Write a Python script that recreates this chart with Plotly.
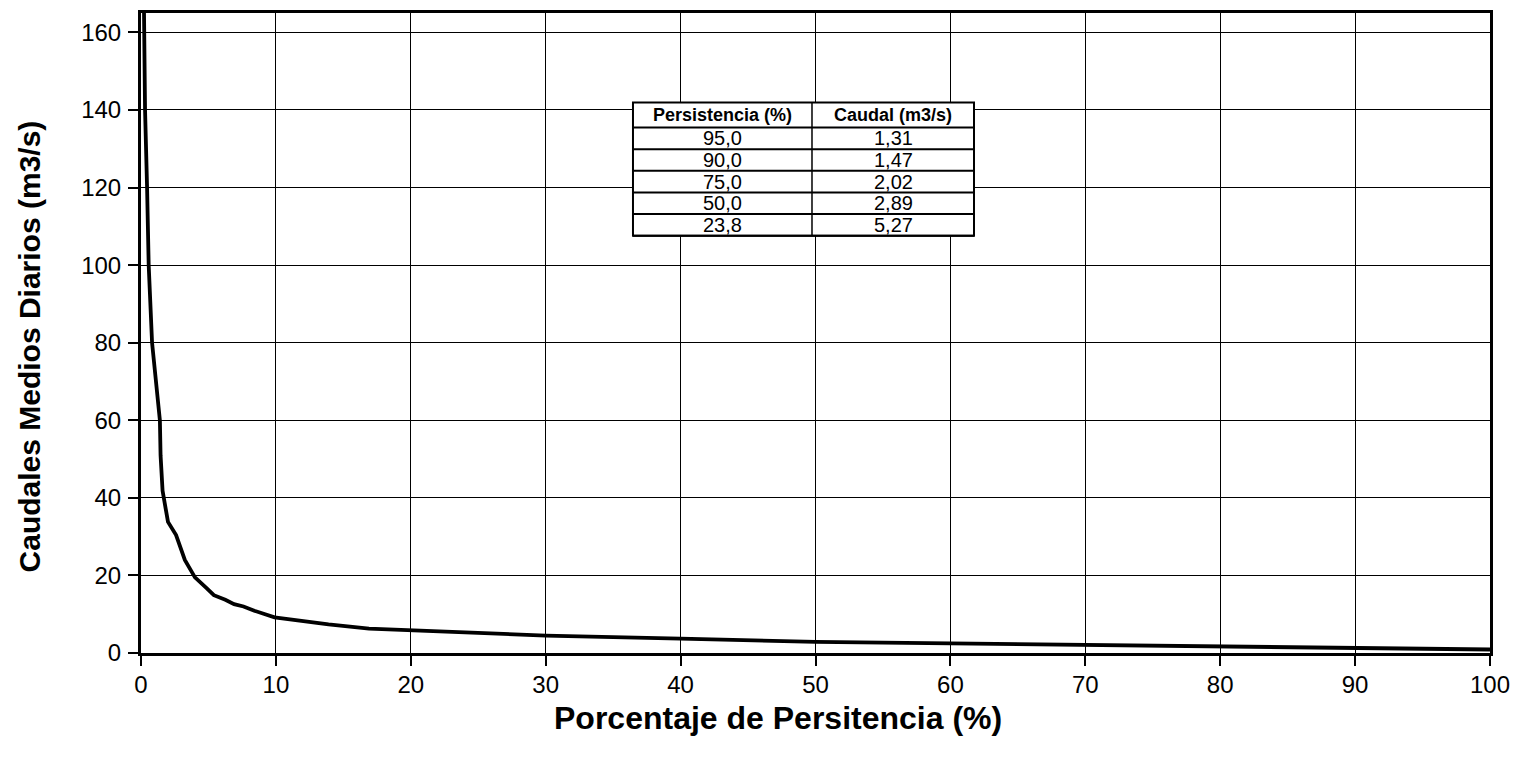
import plotly.graph_objects as go

# Curva de duración de caudales (lectura aproximada del gráfico)
persistencia = [0.22, 0.3, 0.45, 0.57, 0.82, 1.1, 1.3, 1.4, 1.45, 1.6, 2.0, 2.6, 3.25, 4.0, 4.9, 5.4,
                6.25, 6.9, 7.6, 8.4, 9.9, 11.1, 13.9, 16.9, 19.4, 23.8, 30, 40, 50, 60, 70, 75, 80,
                90, 95, 100]
caudal = [166, 140, 120, 100, 80, 70, 64.7, 60, 51, 41.8, 33.8, 30.4, 24, 19.5, 16.6, 14.9,
          13.7, 12.6, 12.0, 10.9, 9.2, 8.6, 7.4, 6.3, 6.0, 5.27, 4.5, 3.7, 2.89, 2.5, 2.15, 2.02, 1.8,
          1.47, 1.31, 0.9]

tabla_pers = ["95,0", "90,0", "75,0", "50,0", "23,8"]
tabla_caudal = ["1,31", "1,47", "2,02", "2,89", "5,27"]
tabla_headers = ["Persistencia (%)", "Caudal (m3/s)"]

x_ticks = list(range(0, 101, 10))
y_ticks = list(range(0, 161, 20))

x_title = "Porcentaje de Persitencia (%)"
y_title = "Caudales Medios Diarios (m3/s)"

fig = go.Figure()
fig.add_trace(go.Scatter(x=persistencia, y=caudal, mode="lines",
                         line=dict(color="black", width=3.8), showlegend=False))

# --- tabla (en coordenadas "paper" del área de trazado) ---
tx0, tx1, tdiv = 0.3647, 0.6175, 0.4974
ttop = 0.860
hdr_h = 0.039
row_h = 0.0338
shapes = []
annotations = []
bottom = ttop - hdr_h - row_h * len(tabla_pers)
shapes.append(dict(type="rect", xref="paper", yref="paper", x0=tx0, x1=tx1, y0=bottom, y1=ttop,
                   fillcolor="white", line=dict(color="black", width=2), layer="above"))
shapes.append(dict(type="line", xref="paper", yref="paper", x0=tdiv, x1=tdiv, y0=bottom, y1=ttop,
                   line=dict(color="black", width=1.5)))
ycur = ttop - hdr_h
shapes.append(dict(type="line", xref="paper", yref="paper", x0=tx0, x1=tx1, y0=ycur, y1=ycur,
                   line=dict(color="black", width=2)))
for i, h in enumerate(tabla_headers):
    cx = (tx0 + tdiv) / 2 if i == 0 else (tdiv + tx1) / 2
    annotations.append(dict(x=cx, y=ttop - hdr_h / 2, xref="paper", yref="paper", text=f"<b>{h}</b>",
                            showarrow=False, font=dict(family="Arial", size=18, color="black"),
                            xanchor="center", yanchor="middle"))
for p, c in zip(tabla_pers, tabla_caudal):
    yc = ycur - row_h / 2
    annotations.append(dict(x=(tx0 + tdiv) / 2, y=yc, xref="paper", yref="paper", text=p,
                            showarrow=False, font=dict(family="Arial", size=20, color="black"),
                            xanchor="center", yanchor="middle"))
    annotations.append(dict(x=(tdiv + tx1) / 2, y=yc, xref="paper", yref="paper", text=c,
                            showarrow=False, font=dict(family="Arial", size=20, color="black"),
                            xanchor="center", yanchor="middle"))
    ycur -= row_h
    shapes.append(dict(type="line", xref="paper", yref="paper", x0=tx0, x1=tx1, y0=ycur, y1=ycur,
                       line=dict(color="black", width=2)))

# títulos de ejes
annotations.append(dict(x=0.472, y=-0.101, xref="paper", yref="paper", text=f"<b>{x_title}</b>",
                        showarrow=False, font=dict(family="Arial", size=32, color="black"),
                        xanchor="center", yanchor="middle"))
annotations.append(dict(x=-0.083, y=0.479, xref="paper", yref="paper", text=f"<b>{y_title}</b>",
                        showarrow=False, textangle=-90, font=dict(family="Arial", size=30, color="black"),
                        xanchor="center", yanchor="middle"))

fig.update_layout(
    width=1507, height=744,
    margin=dict(l=133, r=25, t=2, b=99),
    paper_bgcolor="white", plot_bgcolor="white",
    font=dict(family="Arial", color="black", size=24),
    shapes=shapes, annotations=annotations,
    xaxis=dict(range=[0, 100], tickvals=x_ticks, ticks="outside", ticklen=10, tickwidth=2,
               tickcolor="black", showgrid=True, gridcolor="black", gridwidth=1,
               showline=True, linecolor="black", linewidth=3, mirror=True, zeroline=False,
               ticklabelstandoff=-2, tickfont=dict(size=24)),
    yaxis=dict(range=[0, 165], tickvals=y_ticks, ticks="outside", ticklen=10, tickwidth=2,
               tickcolor="black", showgrid=True, gridcolor="black", gridwidth=1,
               showline=True, linecolor="black", linewidth=3, mirror=True, zeroline=False,
               ticklabelstandoff=2, tickfont=dict(size=24)),
)

fig.write_html("out.html")
